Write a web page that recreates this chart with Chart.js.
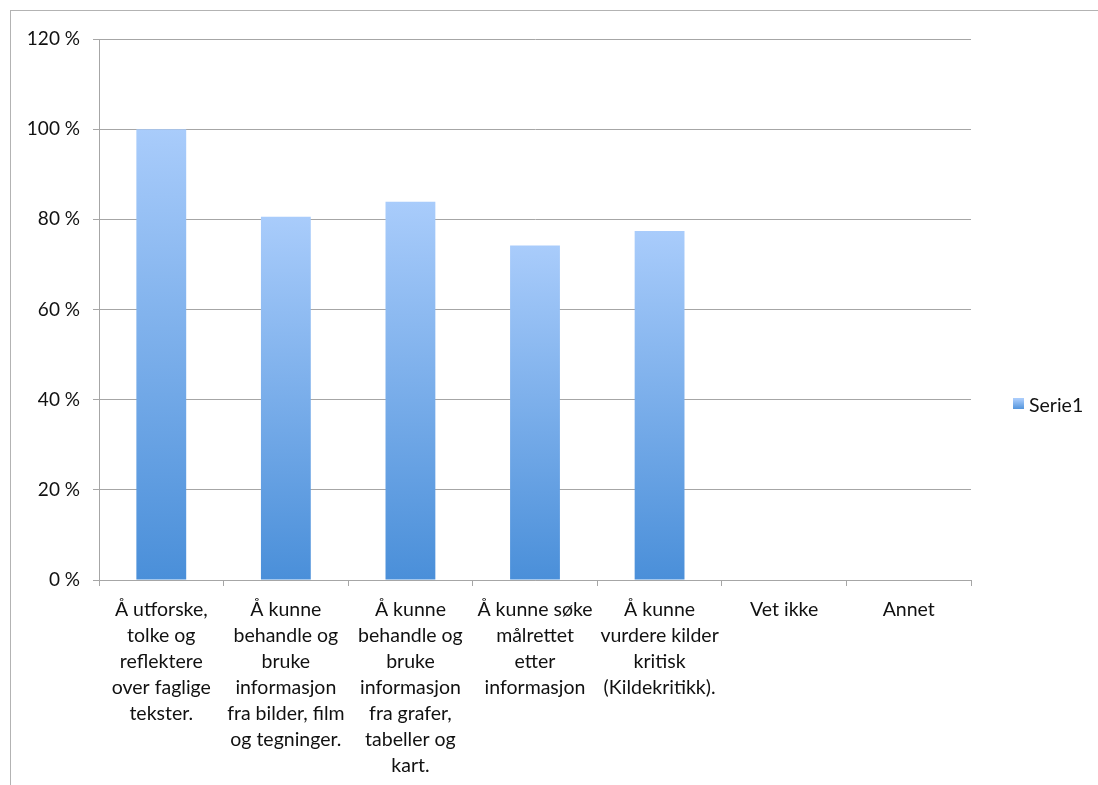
<!DOCTYPE html>
<html>
<head>
<meta charset="utf-8">
<script src="https://cdn.jsdelivr.net/npm/chart.js@4.4.1/dist/chart.umd.min.js"></script>
<style>
  html, body { margin: 0; padding: 0; background: #fff; overflow: hidden; }
  #frame { position: absolute; left: 10px; top: 10px; width: 1200px; height: 900px; border: 1px solid #b3b3b3; }
  #wrap { position: absolute; left: 0; top: 0; width: 1098px; height: 785px; }
</style>
</head>
<body>
<div id="frame"></div>
<div id="wrap"><canvas id="myChart" width="1098" height="785"></canvas></div>
<script>
// categories (wrapped the way the original shows them)
let categories = [
    ["Å utforske,", "tolke og", "reflektere", "over faglige", "tekster."],
    ["Å kunne", "behandle og", "bruke", "informasjon", "fra bilder, film", "og tegninger."],
    ["Å kunne", "behandle og", "bruke", "informasjon", "fra grafer,", "tabeller og", "kart."],
    ["Å kunne søke", "målrettet", "etter", "informasjon"],
    ["Å kunne", "vurdere kilder", "kritisk", "(Kildekritikk)."],
    "Vet ikke",
    "Annet"
];
let serie1 = [100, 80.6, 83.9, 74.2, 77.4, 0, 0];
let yTicks = [0, 20, 40, 60, 80, 100, 120];

let fontFamily = "Lato, 'Open Sans', sans-serif";

function barGradient(context) {
    let chart = context.chart;
    let area = chart.chartArea;
    if (!area || context.type !== "data") return "#78aae8";
    let y = chart.scales.y;
    let top = y.getPixelForValue(context.raw);
    let base = y.getPixelForValue(0);
    if (base - top < 1) return "#4a8fd9";
    let g = chart.ctx.createLinearGradient(0, top, 0, base);
    g.addColorStop(0, "#a9ccfb");
    g.addColorStop(1, "#4a8fd9");
    return g;
}

// legend drawn beside the plot, like the original
let sideLegend = {
    id: "sideLegend",
    afterDraw(chart) {
        let ctx = chart.ctx;
        let x = chart.chartArea.right + 42;
        let y = 404;
        let g = ctx.createLinearGradient(0, y - 5, 0, y + 6);
        g.addColorStop(0, "#a9ccfb");
        g.addColorStop(1, "#4a8fd9");
        ctx.save();
        ctx.fillStyle = g;
        ctx.fillRect(x, y - 6, 11, 11);
        ctx.fillStyle = "#111";
        ctx.font = "19.5px " + fontFamily;
        ctx.textBaseline = "middle";
        ctx.fillText(chart.data.datasets[0].label, x + 16, y + 2);
        ctx.restore();
    }
};

let myChart = document.getElementById("myChart").getContext("2d");
let barChart = new Chart(myChart, {
    type: "bar",
    data: {
        labels: categories,
        datasets: [{
            label: "Serie1",
            data: serie1,
            backgroundColor: barGradient,
            borderWidth: 0,
            categoryPercentage: 1.0,
            barPercentage: 0.4
        }]
    },
    options: {
        responsive: false,
        animation: false,
        layout: { padding: { top: 39, right: 127, left: 0, bottom: 0 } },
        plugins: {
            legend: { display: false },
            tooltip: { enabled: false }
        },
        scales: {
            x: {
                afterFit: s => { s.height = 205; },
                grid: {
                    offset: true,
                    drawOnChartArea: false,
                    drawTicks: true,
                    tickLength: 6,
                    color: "#a6a6a6"
                },
                border: { color: "#a6a6a6", width: 1 },
                ticks: {
                    color: "#111",
                    font: { family: fontFamily, size: 19.5, lineHeight: 1.333 },
                    padding: 11,
                    maxRotation: 0,
                    autoSkip: false
                }
            },
            y: {
                min: 0,
                max: 120,
                afterFit: s => { s.width = 99; },
                afterBuildTicks: s => { s.ticks = yTicks.map(v => ({ value: v })); },
                grid: {
                    color: "#a6a6a6",
                    tickLength: 6,
                    drawTicks: true
                },
                border: { color: "#a6a6a6", width: 1 },
                ticks: {
                    color: "#111",
                    font: { family: fontFamily, size: 19 },
                    padding: 13,
                    callback: v => v + " %"
                }
            }
        }
    },
    plugins: [sideLegend]
});
</script>
</body>
</html>
